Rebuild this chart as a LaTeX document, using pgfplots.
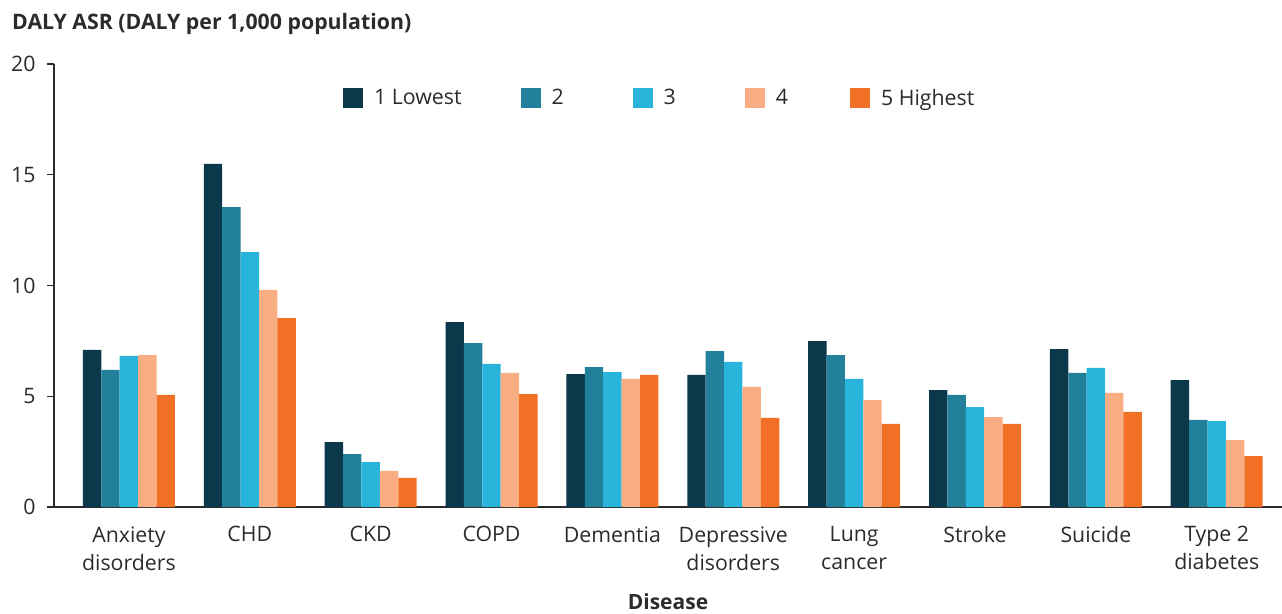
\documentclass[border=0pt]{standalone}
\usepackage{pgfplots}
\pgfplotsset{compat=1.18}
\usepackage{fontspec}
\setmainfont{Open Sans}
\definecolor{c1}{HTML}{0B394B}
\definecolor{c2}{HTML}{23809A}
\definecolor{c3}{HTML}{29B4DC}
\definecolor{c4}{HTML}{F8AE82}
\definecolor{c5}{HTML}{F26F26}
\definecolor{txt}{HTML}{2B2B2B}
\begin{document}
\begin{tikzpicture}[x=1pt,y=1pt]
\path[use as bounding box] (0,0) rectangle (1282,613);
\node[anchor=west,font=\fontsize{21.3}{24}\selectfont\bfseries,text=txt,inner sep=0] at (12,589) {DALY ASR (DALY per 1,000 population)};
\begin{axis}[
  at={(54pt,106pt)}, anchor=south west,
  scale only axis, width=1228pt, height=443pt,
  xmin=-0.62, xmax=9.54, ymin=0, ymax=20,
  axis lines*=left,
  axis line style={line width=1.4pt, color=txt},
  ybar=0pt, bar width=18.4pt,
  ytick={0,5,10,15,20},
  xtick={0,1,2,3,4,5,6,7,8,9},
  xticklabels={{Anxiety\\disorders},CHD,CKD,COPD,Dementia,{Depressive\\disorders},{Lung\\cancer},Stroke,Suicide,{Type 2\\diabetes}},
  x tick label style={align=center,font=\fontsize{21.3}{28}\selectfont,text=txt,yshift=-9pt},
  y tick label style={font=\fontsize{21.3}{24}\selectfont,text=txt,xshift=-8pt},
  /pgf/number format/assume math mode=true,
  major x tick style={draw=none},
  ytick style={line width=1.2pt,color=txt},
  tick align=outside, major tick length=7pt,
  xlabel={Disease},
  xlabel style={font=\fontsize{21}{24}\selectfont\bfseries,text=txt,yshift=-16pt},
  legend style={draw=none,fill=none,inner sep=0pt,at={(0.2353,0.9232)},anchor=west,
    font=\fontsize{21.3}{24}\selectfont, text=txt,
    /tikz/every even column/.append style={column sep=57pt},
    /tikz/every odd column/.append style={column sep=9pt}},
  legend columns=-1,
  legend image code/.code={\fill[#1,draw=none] (0pt,-10pt) rectangle (20pt,10pt);},
]
\addplot[fill=c1,draw=none] coordinates {(0,7.09) (1,15.49) (2,2.93) (3,8.35) (4,6.00) (5,5.96) (6,7.49) (7,5.28) (8,7.13) (9,5.73)};
\addplot[fill=c2,draw=none] coordinates {(0,6.19) (1,13.54) (2,2.39) (3,7.40) (4,6.32) (5,7.04) (6,6.86) (7,5.06) (8,6.05) (9,3.93)};
\addplot[fill=c3,draw=none] coordinates {(0,6.82) (1,11.51) (2,2.03) (3,6.46) (4,6.09) (5,6.55) (6,5.78) (7,4.51) (8,6.28) (9,3.88)};
\addplot[fill=c4,draw=none] coordinates {(0,6.86) (1,9.80) (2,1.63) (3,6.05) (4,5.78) (5,5.42) (6,4.83) (7,4.06) (8,5.15) (9,3.02)};
\addplot[fill=c5,draw=none] coordinates {(0,5.06) (1,8.53) (2,1.31) (3,5.10) (4,5.96) (5,4.02) (6,3.75) (7,3.75) (8,4.29) (9,2.30)};
\legend{1 Lowest,2\hspace*{10pt},3\hspace*{10pt},4\hspace*{3pt},5 Highest}
\end{axis}
\end{tikzpicture}
\end{document}
